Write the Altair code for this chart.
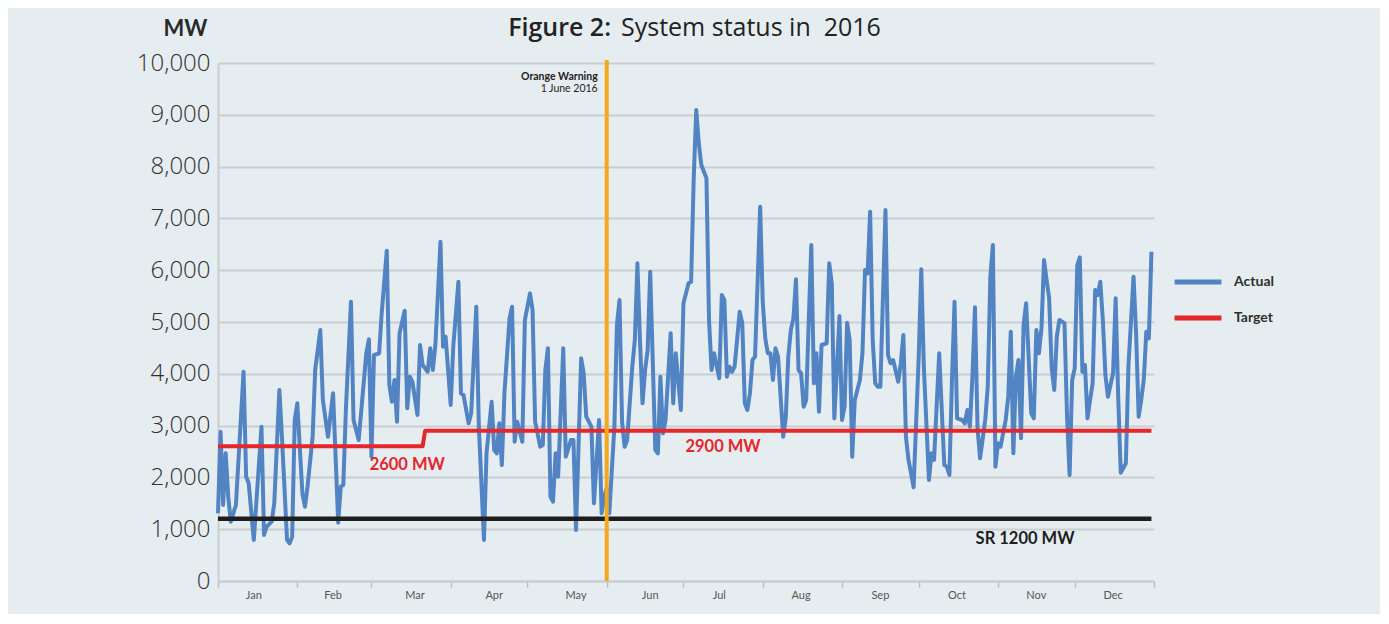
import altair as alt
import pandas as pd

# ---------------- data ----------------
actual_day = [0, 1, 2, 3, 4, 5, 7, 10, 11, 12, 14, 17, 18, 19, 21, 22, 24, 25, 27, 28, 29, 30, 31,
              33, 34, 35, 37, 38, 40, 41, 43, 45, 47, 48, 49, 50, 52, 53, 55, 58, 59, 60, 61, 63,
              64, 66, 67, 68, 69, 70, 71, 73, 74, 75, 76, 78, 79, 80, 82, 83, 84, 85, 87, 88, 89,
              91, 92, 94, 95, 96, 98, 99, 101, 102, 104, 105, 107, 108, 109, 110, 111, 112, 114,
              115, 116, 117, 119, 120, 122, 123, 124, 126, 127, 128, 129, 130, 131, 132, 133, 135,
              136, 138, 139, 140, 142, 143, 144, 146, 147, 149, 150, 151, 152, 153, 154, 155, 156,
              157, 158, 159, 160, 162, 163, 164, 165, 166, 167, 168, 169, 171, 172, 173, 174, 175,
              177, 178, 179, 181, 182, 184, 185, 186, 187, 188, 189, 191, 192, 193, 194, 196, 197,
              198, 199, 200, 201, 202, 204, 205, 206, 207, 208, 209, 210, 212, 213, 214, 215, 216,
              217, 218, 219, 221, 222, 223, 224, 225, 226, 227, 228, 229, 230, 231, 232, 233, 234,
              235, 236, 238, 239, 240, 241, 242, 243, 244, 245, 246, 247, 248, 249, 251, 252, 253,
              254, 255, 256, 257, 258, 259, 261, 262, 263, 264, 266, 267, 268, 269, 270, 271, 272,
              274, 275, 276, 278, 279, 280, 282, 284, 285, 286, 287, 288, 289, 291, 292, 293, 294,
              295, 296, 297, 298, 300, 301, 302, 303, 304, 305, 306, 308, 309, 310, 311, 312, 313,
              314, 315, 316, 318, 319, 320, 321, 322, 323, 324, 325, 326, 327, 328, 329, 331, 332,
              333, 334, 335, 336, 337, 338, 339, 340, 341, 342, 343, 344, 345, 346, 347, 348, 350,
              351, 352, 353, 355, 356, 358, 359, 360, 361, 362, 363, 364, 365]
actual_mw = [1307, 2882, 1467, 2465, 1628, 1145, 1467, 4040, 2013, 1886, 791, 2979, 888, 1048, 1145,
             1500, 3687, 2786, 791, 727, 855, 3108, 3430, 1693, 1435, 1821, 2786, 4073, 4846, 3494,
             2786, 3624, 1126, 1821, 1853, 3301, 5392, 3108, 2722, 4396, 4666, 2400, 4363, 4396,
             5168, 6377, 3784, 3462, 3880, 3075, 4782, 5218, 3334, 3944, 3848, 3205, 4556, 4170,
             4040, 4492, 4073, 4556, 6550, 4524, 4717, 3398, 4524, 5778, 3624, 3591, 3044, 3237,
             5295, 2979, 791, 2465, 3462, 2529, 2465, 3044, 2239, 3624, 5071, 5295, 2689, 3075,
             2689, 5038, 5553, 5232, 3075, 2593, 2625, 4073, 4492, 1628, 1531, 2465, 2013, 4492,
             2400, 2722, 2722, 985, 4299, 4010, 3172, 2979, 1500, 3108, 1307, 1628, 1789, 1307,
             2143, 2979, 4942, 5425, 3075, 2593, 2722, 4137, 4653, 6133, 4653, 3430, 4073, 4460,
             5971, 2529, 2465, 3944, 2851, 3108, 4782, 3430, 4396, 3301, 5361, 5747, 5778, 7741,
             9093, 8450, 8031, 7774, 5038, 4073, 4396, 3913, 5521, 5425, 3944, 4137, 4040, 4137,
             5199, 4975, 3430, 3301, 3624, 4266, 4331, 7226, 5392, 4685, 4396, 4396, 3880, 4492,
             4331, 2786, 3141, 4331, 4846, 5071, 5824, 4073, 4010, 3365, 3494, 5038, 6486, 3816,
             4396, 3268, 4556, 4589, 6133, 5747, 3141, 4073, 5116, 3108, 3365, 4987, 4653, 2400,
             3494, 3880, 4396, 6004, 5940, 7129, 4653, 3816, 3751, 3751, 7162, 4363, 4203, 4266,
             3848, 4203, 4749, 2786, 2336, 2079, 1809, 4331, 6017, 4137, 1950, 2465, 2336, 4396,
             2239, 2207, 2046, 3880, 5392, 3141, 3108, 3044, 3301, 2979, 3944, 5284, 2948, 2369,
             3108, 3751, 5875, 6486, 2207, 2658, 2593, 3108, 3558, 4813, 2465, 3944, 4266, 2755,
             4942, 5361, 3237, 3141, 4846, 4396, 4878, 6197, 5811, 5458, 4106, 3687, 4717, 5038,
             4975, 3172, 2046, 3880, 4106, 6100, 6249, 4040, 4170, 3141, 3494, 3816, 5617, 5521,
             5778, 5038, 3977, 3558, 4010, 5458, 3558, 2091, 2272, 4137, 5875, 4782, 3172, 3494,
             3880, 4813, 4685, 6357]

target_dates = ["2016-01-01T00:00", "2016-03-21T00:00", "2016-03-22T00:00", "2016-12-31T00:00"]
target_mw = [2600, 2600, 2900, 2900]

sr_dates = ["2016-01-01T00:00", "2016-12-31T00:00"]
sr_mw = [1200, 1200]

warning_dates = ["2016-06-01T00:00"]
warning_top = [10060]
warning_labels = ["Orange Warning", "1 June 2016"]
warning_label_mw = [9730, 9500]

note_dates = ["2016-03-15T00:00", "2016-07-16T12:00", "2016-11-11T14:00"]
note_mw = [2240, 2590, 810]
note_labels = ["2600 MW", "2900 MW", "SR 1200 MW"]
note_colors = ["#E5262B", "#E5262B", "#1E1E1E"]

month_names = ["Jan", "Feb", "Mar", "Apr", "May", "Jun", "Jul", "Aug", "Sep", "Oct", "Nov", "Dec"]
month_label_dates = ["2016-01-15T00:00", "2016-02-15T00:00", "2016-03-18T00:00", "2016-04-18T00:00",
                     "2016-05-20T00:00", "2016-06-18T00:00", "2016-07-15T00:00", "2016-08-16T00:00",
                     "2016-09-16T00:00", "2016-10-16T00:00", "2016-11-16T00:00", "2016-12-16T00:00"]
y_ticks = list(range(0, 10001, 1000))
title_parts = ["Figure 2:", "System status in\u00a0 2016"]

# ---------------- tables ----------------
def ts(values):
    return pd.to_datetime(values, format="%Y-%m-%dT%H:%M")

start = pd.Timestamp("2016-01-01")
actual = pd.DataFrame({"date": [start + pd.Timedelta(days=d) for d in actual_day],
                       "mw": actual_mw, "series": "Actual"})
target = pd.DataFrame({"date": ts(target_dates), "mw": target_mw, "series": "Target"})
lines = pd.concat([actual, target], ignore_index=True)
sr = pd.DataFrame({"date": ts(sr_dates), "mw": sr_mw})
warn = pd.DataFrame({"date": ts(warning_dates), "top": warning_top, "bottom": [0]})
warn_txt = pd.DataFrame({"date": ts(warning_dates * 2), "mw": warning_label_mw,
                         "label": warning_labels})
notes = pd.DataFrame({"date": ts(note_dates), "mw": note_mw, "label": note_labels,
                      "c": note_colors})
months = pd.DataFrame({"date": ts(month_label_dates), "label": month_names})
month_starts = [alt.DateTime(year=2016, month=m, date=1) for m in range(1, 13)] + \
               [alt.DateTime(year=2017, month=1, date=1)]

W, H = 936, 518
FONT = "Lato"
TFONT = "Open Sans"
GRID = "#CACED1"

x_scale = alt.Scale(domain=[alt.DateTime(year=2016, month=1, date=1),
                            alt.DateTime(year=2017, month=1, date=1)])
y_scale = alt.Scale(domain=[0, 10000], nice=False)

x_enc = alt.X("date:T", scale=x_scale,
              axis=alt.Axis(values=month_starts, labels=False, ticks=True, tickSize=6,
                            tickColor="#B9BEC2", tickWidth=1.5, grid=False, domain=True,
                            domainColor=GRID, domainWidth=2, title=None))
y_enc = alt.Y("mw:Q", scale=y_scale,
              axis=alt.Axis(values=y_ticks, format=",d", labelFontSize=24, labelFont=TFONT,
                            labelFontWeight=300, labelColor="#2F2F2F", ticks=False,
                            labelPadding=8, grid=True, gridColor=GRID, gridWidth=2,
                            domain=True, domainColor=GRID, domainWidth=2,
                            title="MW", titleAngle=0, titleAlign="center",
                            titleBaseline="alphabetic", titleX=-33, titleY=-28,
                            titleFontSize=22, titleFontWeight="bold", titleFont=FONT,
                            titleColor="#2A2A2A"))

main = alt.Chart(lines).mark_line(strokeWidth=4, strokeJoin="round").encode(
    x=x_enc, y=y_enc,
    color=alt.Color("series:N",
                    scale=alt.Scale(domain=["Actual", "Target"], range=["#5284C4", "#E5262B"]),
                    legend=alt.Legend(title=None, orient="none", legendX=954, legendY=193,
                                      symbolType="stroke", symbolStrokeWidth=5,
                                      symbolSize=2200, labelFontSize=14, labelFont=FONT,
                                      labelFontWeight="bold", labelColor="#2F2F2F",
                                      rowPadding=-2, labelOffset=10)),
    order=alt.Order("date:T"),
)

sr_line = alt.Chart(sr).mark_line(strokeWidth=4.5, color="#1E1E1E").encode(
    x=alt.X("date:T", scale=x_scale), y=alt.Y("mw:Q", scale=y_scale))

warn_rule = alt.Chart(warn).mark_rule(strokeWidth=4, color="#F6A81C").encode(
    x=alt.X("date:T", scale=x_scale), y=alt.Y("bottom:Q", scale=y_scale), y2="top:Q")

warn_text_bold = alt.Chart(warn_txt.iloc[[0]]).mark_text(
    align="right", baseline="middle", dx=-9, fontSize=10.5, fontWeight="bold", font=FONT,
    color="#222").encode(x=alt.X("date:T", scale=x_scale), y=alt.Y("mw:Q", scale=y_scale),
                         text="label:N")
warn_text_reg = alt.Chart(warn_txt.iloc[[1]]).mark_text(
    align="right", baseline="middle", dx=-9, fontSize=10.5, fontWeight="normal", font=FONT,
    color="#222").encode(x=alt.X("date:T", scale=x_scale), y=alt.Y("mw:Q", scale=y_scale),
                         text="label:N")

note_text = alt.Chart(notes).mark_text(align="center", baseline="middle", fontSize=16.5,
                                       fontWeight="bold", font=FONT).encode(
    x=alt.X("date:T", scale=x_scale), y=alt.Y("mw:Q", scale=y_scale), text="label:N",
    color=alt.Color("c:N", scale=None))

month_text = alt.Chart(months).mark_text(align="center", baseline="middle", fontSize=11,
                                         font=FONT, color="#555").encode(
    x=alt.X("date:T", scale=x_scale), y=alt.value(H + 15), text="label:N")

title_df = pd.DataFrame({"t": title_parts})
title_bold = alt.Chart(title_df.iloc[[0]]).mark_text(
    align="right", baseline="alphabetic", fontSize=25, fontWeight=600, font=TFONT,
    color="#222").encode(x=alt.value(393), y=alt.value(-27), text="t:N")
title_reg = alt.Chart(title_df.iloc[[1]]).mark_text(
    align="left", baseline="alphabetic", fontSize=25, fontWeight="normal", font=TFONT,
    color="#222").encode(x=alt.value(403), y=alt.value(-27), text="t:N")

chart = alt.layer(main, sr_line, warn_rule, warn_text_bold, warn_text_reg, note_text,
                  month_text, title_bold, title_reg).properties(
    width=W, height=H,
    padding={"left": 210, "top": 55, "right": 226, "bottom": 33},
    autosize=alt.AutoSizeParams(type="none"),
).configure(background="#E6EDF1", font=FONT).configure_view(stroke=None)

chart.save("out.html", embed_options={"renderer": "svg", "actions": False})
